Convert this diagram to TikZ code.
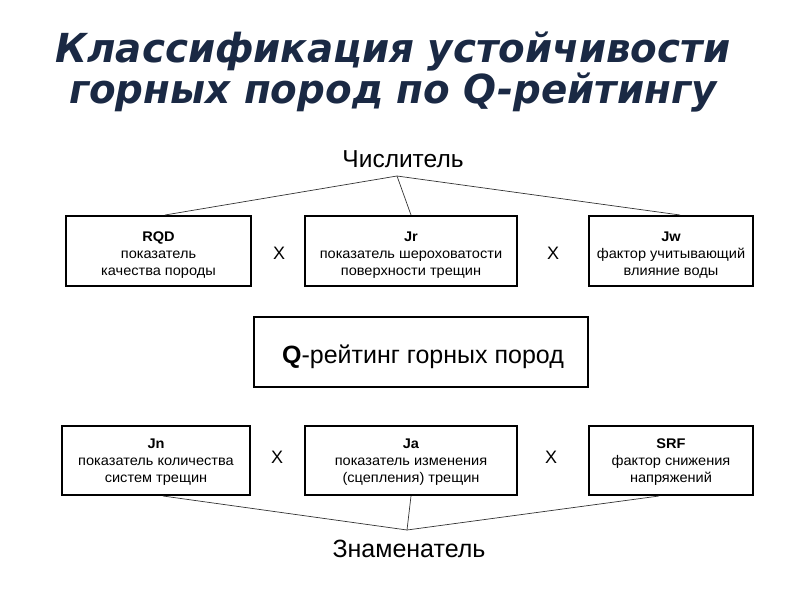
\documentclass[tikz,border=0pt]{standalone}
\usepackage{fontspec}
\setmainfont{Liberation Sans}
\newfontfamily\boxfont[FakeStretch=1.04]{Liberation Sans}
\newfontfamily\titlefont{DejaVu Sans}
\definecolor{titleblue}{HTML}{1A2944}
\begin{document}
\begin{tikzpicture}[x=1pt,y=-1pt,
  box/.style={draw=black,line width=2pt,fill=white,inner sep=0pt},
  boxtext/.style={inner sep=0pt,align=center,font=\boxfont\fontsize{14}{17}\selectfont},
  thin/.style={line width=0.7pt,draw=black!80},
  xmark/.style={font=\fontsize{18}{18}\selectfont},
  lbl/.style={anchor=base,font=\fontsize{25}{25}\selectfont}]
\useasboundingbox (0,0) rectangle (800,600);
\node[text=titleblue,align=center,font=\titlefont\bfseries\itshape\fontsize{40}{38}\selectfont] (title) at (393,72)
  {\scalebox{0.97}[1]{Классификация устойчивости}\\\scalebox{0.97}[1]{горных пород по Q-рейтингу}};
% top row
\node[box,minimum width=185,minimum height=70] (rqd) at (158.5,251) {};
\node[box,minimum width=212,minimum height=70] (jr) at (411,251) {};
\node[box,minimum width=164,minimum height=70] (jw) at (671,251) {};
\node[boxtext] (rqdt) at ([yshift=-4.5pt]rqd.center) {\textbf{RQD}\\показатель\\качества породы};
\node[boxtext] (jrt) at ([yshift=-4.5pt]jr.center) {\textbf{Jr}\\показатель шероховатости\\поверхности трещин};
\node[boxtext] (jwt) at ([yshift=-4.5pt]jw.center) {\textbf{Jw}\\фактор учитывающий\\влияние воды};
\node[lbl,font=\fontsize{24.5}{25}\selectfont] (num) at (403,167) {Числитель};
\coordinate (numpt) at (397,176);
\draw[thin] (numpt) -- (rqd.north -| 165,0);
\draw[thin] (numpt) -- (jr.north);
\draw[thin] (numpt) -- (jw.north -| 680,0);
\node[xmark] (x1) at (279,253) {X};
\node[xmark] (x2) at (553,253) {X};
% center
\node[draw=black,line width=2pt,minimum width=334,minimum height=70] (q) at (421,352) {};
\node[lbl] (qt) at (423,363) {\textbf{Q}-рейтинг горных пород};
% bottom row
\node[box,minimum width=188,minimum height=69] (jn) at (156,460.5) {};
\node[box,minimum width=212,minimum height=69] (ja) at (411,460.5) {};
\node[box,minimum width=164,minimum height=69] (srf) at (671,460.5) {};
\node[boxtext] (jnt) at ([yshift=-2pt]jn.center) {\textbf{Jn}\\показатель количества\\систем трещин};
\node[boxtext] (jat) at ([yshift=-2pt]ja.center) {\textbf{Ja}\\показатель изменения\\(сцепления) трещин};
\node[boxtext] (srft) at ([yshift=-2pt]srf.center) {\textbf{SRF}\\фактор снижения\\напряжений};
\node[lbl] (den) at (409,557) {Знаменатель};
\coordinate (denpt) at (407,530);
\draw[thin] (denpt) -- (jn.south -| 163,0);
\draw[thin] (denpt) -- (ja.south);
\draw[thin] (denpt) -- (srf.south -| 659,0);
\node[xmark] (x3) at (277,457) {X};
\node[xmark] (x4) at (551,457) {X};
\end{tikzpicture}
\end{document}
